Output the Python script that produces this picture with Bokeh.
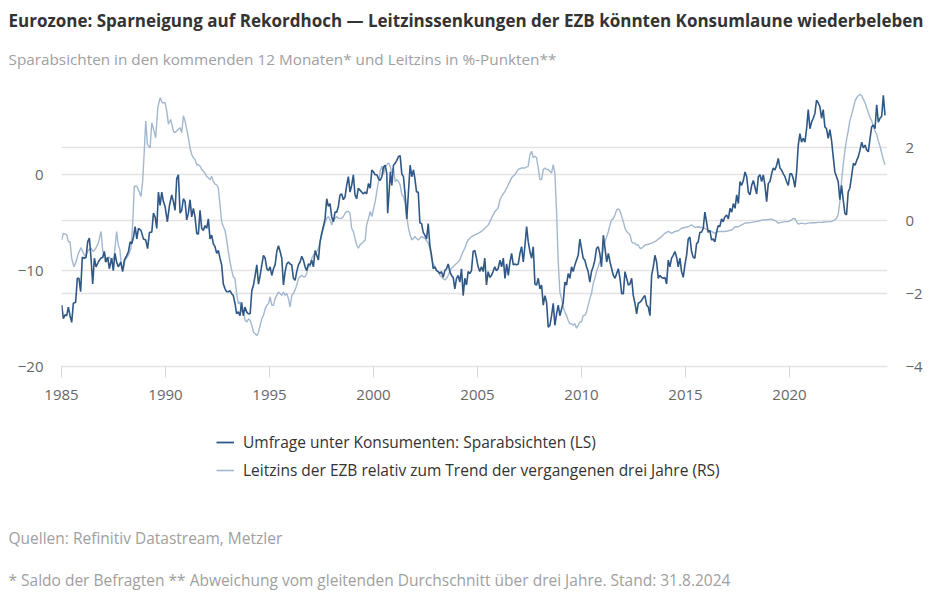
from bokeh.plotting import figure
from bokeh.layouts import column
from bokeh.models import (ColumnDataSource, Range1d, LinearAxis, FixedTicker, Grid,
                          Title, Legend, LegendItem)
from bokeh.embed import file_html
from bokeh.resources import INLINE

# ---------------- data ----------------
# Umfrage unter Konsumenten: Sparabsichten (left scale)
dark_year = [
    1985.01, 1985.09, 1985.17, 1985.25, 1985.33, 1985.41, 1985.49, 1985.57, 1985.68, 1985.76, 1985.84, 1985.92,
    1986.00, 1986.10, 1986.18, 1986.26, 1986.34, 1986.42, 1986.50, 1986.58, 1986.66, 1986.77, 1986.89, 1986.98,
    1987.06, 1987.14, 1987.22, 1987.30, 1987.41, 1987.49, 1987.57, 1987.65, 1987.73, 1987.85, 1987.94,
    1988.02, 1988.10, 1988.22, 1988.30, 1988.38, 1988.46, 1988.54, 1988.62, 1988.70, 1988.82, 1988.94,
    1989.05, 1989.14, 1989.23, 1989.34, 1989.42, 1989.50, 1989.58, 1989.66, 1989.74, 1989.82, 1989.90, 1989.98,
    1990.09, 1990.19, 1990.30, 1990.38, 1990.46, 1990.54, 1990.62, 1990.70, 1990.78, 1990.86, 1990.94,
    1991.02, 1991.10, 1991.18, 1991.26, 1991.34, 1991.42, 1991.50, 1991.58, 1991.66, 1991.74, 1991.82, 1991.90, 1991.98,
    1992.06, 1992.14, 1992.22, 1992.30, 1992.38, 1992.46, 1992.54, 1992.62, 1992.70, 1992.78, 1992.86, 1992.94,
    1993.02, 1993.10, 1993.18, 1993.26, 1993.34, 1993.42, 1993.50, 1993.58, 1993.66, 1993.74, 1993.82, 1993.90, 1993.98,
    1994.07, 1994.15, 1994.23, 1994.31, 1994.39, 1994.47, 1994.55, 1994.63, 1994.71, 1994.79, 1994.87, 1994.95,
    1995.03, 1995.11, 1995.19, 1995.27, 1995.35, 1995.43, 1995.51, 1995.59, 1995.67, 1995.75, 1995.83, 1995.91, 1995.99,
    1996.07, 1996.15, 1996.23, 1996.31, 1996.39, 1996.47, 1996.55, 1996.63, 1996.71, 1996.79, 1996.87, 1996.95,
    1997.03, 1997.11, 1997.19, 1997.27, 1997.35, 1997.43, 1997.51, 1997.59, 1997.67, 1997.75, 1997.83, 1997.91, 1997.99,
    1998.07, 1998.15, 1998.23, 1998.31, 1998.39, 1998.47, 1998.55, 1998.63, 1998.71, 1998.79, 1998.87, 1998.95,
    1999.03, 1999.11, 1999.19, 1999.27, 1999.35, 1999.43, 1999.51, 1999.59, 1999.67, 1999.76, 1999.84, 1999.92,
    2000.00, 2000.08, 2000.16, 2000.24, 2000.32, 2000.40, 2000.48, 2000.56, 2000.64, 2000.68, 2000.75, 2000.81, 2000.88, 2000.96,
    2001.04, 2001.12, 2001.20, 2001.28, 2001.36, 2001.44, 2001.52, 2001.60, 2001.68, 2001.76, 2001.84, 2001.92, 2001.99,
    2002.07, 2002.15, 2002.23, 2002.31, 2002.39, 2002.47, 2002.55, 2002.63, 2002.71, 2002.79, 2002.87, 2002.95,
    2003.03, 2003.11, 2003.19, 2003.27, 2003.35, 2003.43, 2003.51, 2003.59, 2003.67, 2003.75, 2003.83, 2003.91, 2003.99,
    2004.07, 2004.15, 2004.23, 2004.31, 2004.39, 2004.47, 2004.55, 2004.63, 2004.71, 2004.79, 2004.87, 2004.95,
    2005.03, 2005.11, 2005.19, 2005.27, 2005.35, 2005.43, 2005.51, 2005.59, 2005.67, 2005.75, 2005.83, 2005.91, 2005.99,
    2006.08, 2006.16, 2006.24, 2006.32, 2006.40, 2006.48, 2006.56, 2006.64, 2006.72, 2006.80, 2006.88, 2006.96,
    2007.04, 2007.12, 2007.20, 2007.28, 2007.36, 2007.44, 2007.52, 2007.60, 2007.68, 2007.76, 2007.84, 2007.92,
    2008.00, 2008.08, 2008.16, 2008.24, 2008.32, 2008.40, 2008.48, 2008.56, 2008.64, 2008.72, 2008.80, 2008.88, 2008.96,
    2009.04, 2009.12, 2009.20, 2009.28, 2009.36, 2009.44, 2009.52, 2009.60, 2009.68, 2009.76, 2009.84, 2009.92,
    2010.00, 2010.08, 2010.16, 2010.24, 2010.32, 2010.40, 2010.48, 2010.56, 2010.64, 2010.72, 2010.80, 2010.88, 2010.96,
    2011.05, 2011.13, 2011.21, 2011.29, 2011.37, 2011.45, 2011.53, 2011.61, 2011.69, 2011.77, 2011.85, 2011.93,
    2012.01, 2012.09, 2012.17, 2012.25, 2012.33, 2012.41, 2012.49, 2012.57, 2012.65, 2012.73, 2012.81, 2012.89, 2012.97,
    2013.05, 2013.13, 2013.21, 2013.29, 2013.37, 2013.45, 2013.53, 2013.61, 2013.69, 2013.77, 2013.85, 2013.93,
    2014.01, 2014.09, 2014.17, 2014.25, 2014.33, 2014.41, 2014.49, 2014.57, 2014.65, 2014.73, 2014.81, 2014.89, 2014.97,
    2015.05, 2015.13, 2015.21, 2015.29, 2015.37, 2015.45, 2015.53, 2015.61, 2015.69, 2015.77, 2015.85, 2015.93,
    2016.01, 2016.09, 2016.17, 2016.25, 2016.33, 2016.41, 2016.49, 2016.57, 2016.65, 2016.73, 2016.81, 2016.89, 2016.98,
    2017.06, 2017.14, 2017.22, 2017.30, 2017.38, 2017.46, 2017.54, 2017.62, 2017.70, 2017.78, 2017.86, 2017.94,
    2018.02, 2018.10, 2018.18, 2018.26, 2018.34, 2018.42, 2018.50, 2018.58, 2018.66, 2018.74, 2018.82, 2018.90, 2018.98,
    2019.06, 2019.14, 2019.22, 2019.30, 2019.38, 2019.46, 2019.54, 2019.62, 2019.70, 2019.78, 2019.86, 2019.94,
    2020.02, 2020.10, 2020.18, 2020.26, 2020.34, 2020.42, 2020.50, 2020.58, 2020.66, 2020.74, 2020.82, 2020.90, 2020.98,
    2021.06, 2021.14, 2021.22, 2021.30, 2021.38, 2021.46, 2021.54, 2021.62, 2021.70, 2021.78, 2021.86, 2021.94,
    2022.02, 2022.10, 2022.18, 2022.26, 2022.34, 2022.42, 2022.50, 2022.58, 2022.66, 2022.74, 2022.82, 2022.90, 2022.98,
    2023.07, 2023.15, 2023.23, 2023.31, 2023.39, 2023.47, 2023.55, 2023.63, 2023.71, 2023.79, 2023.87, 2023.95,
    2024.03, 2024.11, 2024.19, 2024.27, 2024.35, 2024.43, 2024.51, 2024.59,
]
dark_val = [
    -13.6, -15.0, -14.6, -14.7, -13.8, -14.7, -15.4, -13.4, -13.3, -10.8, -10.8, -12.2,
    -8.6, -8.7, -8.6, -7.0, -6.6, -8.7, -11.4, -8.7, -9.6, -9.1, -8.7, -8.6,
    -8.0, -9.1, -8.6, -9.8, -8.7, -10.0, -8.2, -9.1, -9.6, -9.1, -10.1,
    -8.9, -8.6, -8.0, -7.0, -7.2, -6.5, -5.4, -6.7, -5.6, -5.8, -6.7,
    -6.8, -7.7, -6.0, -6.0, -4.0, -4.4, -5.6, -1.8, -3.2, -1.8, -2.8, -3.3,
    -4.9, -3.2, -2.1, -2.8, -3.7, -0.4, 0.0, -4.0, -3.7, -2.5, -2.8,
    -4.7, -4.0, -2.6, -4.4, -3.5, -4.4, -6.1, -6.2, -3.7, -5.6, -5.8, -5.3, -5.6,
    -4.6, -6.7, -6.3, -7.2, -7.5, -8.2, -7.9, -8.7, -9.4, -11.4, -11.9, -12.2,
    -12.2, -12.1, -12.4, -12.6, -13.4, -14.5, -14.3, -14.7, -13.3, -14.7, -13.8, -14.3, -14.5,
    -14.5, -12.1, -11.5, -10.5, -9.4, -11.4, -10.5, -9.4, -8.4, -8.7, -9.8, -10.0,
    -9.6, -10.5, -9.8, -9.4, -8.0, -7.4, -8.0, -8.7, -11.5, -10.1, -9.3, -9.1, -9.3,
    -9.4, -10.8, -11.0, -10.1, -9.4, -9.1, -8.5, -8.9, -9.6, -10.0, -9.3, -9.4,
    -8.9, -9.6, -7.9, -8.4, -8.9, -7.0, -6.1, -5.4, -4.6, -2.5, -3.3, -3.0, -4.4,
    -4.9, -3.9, -3.9, -3.3, -2.1, -2.0, -2.6, -2.3, -1.1, -0.2, -1.8, -1.1,
    0.0, -2.1, -2.5, -1.4, -1.6, -1.8, -2.0, -1.8, -2.0, -0.9, -1.4, 0.5,
    0.3, 0.0, 0.0, -0.4, -0.6, -0.2, 0.8, 1.0, 0.1, -4.0, -1.8, 0.3, -1.1, 1.0,
    1.2, 1.5, 1.9, 2.0, 0.1, -0.2, -2.1, -4.6, -1.8, 1.0, -0.2, 0.5, -0.4,
    -1.8, -1.8, -5.0, -5.1, -6.0, -6.3, -6.7, -5.1, -7.4, -8.4, -9.8, -9.6,
    -10.0, -10.1, -10.3, -10.1, -10.7, -10.0, -9.8, -9.3, -10.1, -10.5, -10.7, -11.9, -10.8,
    -10.5, -11.2, -9.8, -12.6, -10.8, -11.5, -10.1, -10.3, -10.0, -8.0, -7.9, -8.7,
    -9.6, -10.1, -9.6, -10.1, -8.7, -11.5, -10.1, -10.7, -10.5, -10.1, -9.6, -10.0, -9.8,
    -8.9, -9.6, -8.7, -10.8, -9.3, -10.5, -9.1, -8.2, -9.4, -9.3, -9.4, -9.3,
    -8.2, -7.5, -9.1, -7.4, -5.4, -7.0, -8.0, -8.7, -7.5, -11.4, -11.5, -10.8,
    -11.9, -11.5, -13.6, -12.6, -13.3, -15.9, -15.7, -14.7, -13.4, -15.7, -14.5, -13.6, -14.7,
    -14.0, -13.3, -11.2, -11.5, -10.3, -10.8, -9.6, -10.1, -9.4, -8.9, -8.4, -6.7,
    -7.7, -8.7, -8.9, -9.6, -10.1, -11.2, -10.1, -9.6, -8.9, -7.7, -7.5, -8.2, -9.6,
    -6.3, -7.7, -9.1, -8.2, -9.1, -9.8, -10.5, -10.8, -10.3, -9.8, -10.8, -12.4,
    -12.4, -10.1, -10.8, -11.5, -11.4, -10.8, -12.6, -13.4, -14.5, -13.4, -13.3, -13.1, -12.8,
    -12.6, -13.6, -13.8, -14.7, -10.5, -9.6, -8.4, -9.1, -10.8, -10.5, -10.7, -10.8,
    -10.7, -11.4, -8.9, -9.6, -8.7, -8.4, -8.0, -8.6, -9.6, -8.7, -10.1, -10.7, -9.4,
    -8.4, -6.7, -6.5, -8.0, -8.6, -8.7, -7.2, -7.0, -6.0, -6.0, -5.6, -3.9,
    -4.9, -6.0, -5.8, -6.8, -6.7, -7.0, -6.0, -5.3, -5.4, -4.6, -4.9, -4.4, -4.2,
    -4.6, -3.5, -3.9, -3.0, -3.5, -2.1, -3.0, -0.7, -1.1, -0.6, 0.3, -0.2,
    -1.8, -2.1, -1.1, -0.6, -1.3, -2.0, -0.2, 0.0, -0.7, 0.0, -1.1, -2.8, -0.9,
    -0.7, 0.1, 0.7, 0.5, 1.0, 1.7, 0.7, 0.5, 0.1, -0.2, -0.7, -1.1,
    0.1, 0.1, -0.4, -1.3, 0.3, 3.1, 4.3, 3.4, 3.8, 3.4, 4.8, 6.8, 4.8,
    5.5, 5.9, 6.4, 7.8, 7.5, 7.1, 5.9, 6.8, 5.0, 4.8, 3.8, 4.7,
    3.6, 1.9, 0.3, -0.2, -0.7, -2.6, -1.1, -2.6, -4.0, -4.2, -1.8, -1.4, -0.2,
    1.2, 1.0, 1.5, 1.9, 2.6, 3.4, 2.8, 3.1, 2.6, 2.4, 3.8, 5.0,
    5.2, 4.8, 7.3, 5.5, 5.9, 6.1, 8.3, 6.2,
]

# Leitzins der EZB relativ zum Trend der vergangenen drei Jahre (right scale)
light_year = [
    1985.01, 1985.09, 1985.25, 1985.33, 1985.41, 1985.49, 1985.60, 1985.70, 1985.81, 1985.94,
    1986.05, 1986.16, 1986.29, 1986.42, 1986.53, 1986.65, 1986.77, 1986.90, 1986.98,
    1987.09, 1987.21, 1987.30, 1987.41, 1987.53, 1987.65, 1987.73, 1987.81, 1987.89, 1987.98,
    1988.06, 1988.22, 1988.34, 1988.42, 1988.50, 1988.62, 1988.73, 1988.82, 1988.90, 1988.98,
    1989.05, 1989.13, 1989.26, 1989.34, 1989.45, 1989.53, 1989.63, 1989.74, 1989.85, 1989.98,
    1990.06, 1990.14, 1990.25, 1990.38, 1990.46, 1990.62, 1990.70, 1990.78, 1990.86, 1990.94,
    1991.02, 1991.10, 1991.18, 1991.26, 1991.34, 1991.42, 1991.50, 1991.58, 1991.66, 1991.74, 1991.82, 1991.90, 1991.98,
    1992.06, 1992.14, 1992.22, 1992.30, 1992.38, 1992.46, 1992.54, 1992.62, 1992.70, 1992.78, 1992.86, 1992.94,
    1993.02, 1993.10, 1993.18, 1993.26, 1993.34, 1993.42, 1993.50, 1993.58, 1993.66, 1993.74, 1993.83, 1993.91, 1993.99,
    1994.07, 1994.15, 1994.23, 1994.31, 1994.39, 1994.47, 1994.55, 1994.63, 1994.71, 1994.79, 1994.87, 1994.95,
    1995.03, 1995.11, 1995.19, 1995.27, 1995.35, 1995.43, 1995.51, 1995.59, 1995.67, 1995.75, 1995.83, 1995.91, 1995.99,
    1996.07, 1996.15, 1996.23, 1996.31, 1996.39, 1996.47, 1996.55, 1996.63, 1996.71, 1996.79, 1996.87, 1996.95,
    1997.03, 1997.11, 1997.19, 1997.27, 1997.35, 1997.43, 1997.51, 1997.59, 1997.67, 1997.75, 1997.83, 1997.91, 1997.99,
    1998.07, 1998.15, 1998.23, 1998.31, 1998.39, 1998.47, 1998.55, 1998.63, 1998.71, 1998.79, 1998.87, 1998.95,
    1999.03, 1999.11, 1999.19, 1999.27, 1999.35, 1999.43, 1999.51, 1999.60, 1999.67, 1999.76, 1999.84, 1999.92, 1999.99,
    2000.08, 2000.16, 2000.24, 2000.32, 2000.40, 2000.48, 2000.56, 2000.64, 2000.72, 2000.80, 2000.88, 2000.96,
    2001.04, 2001.12, 2001.20, 2001.28, 2001.36, 2001.44, 2001.52, 2001.60, 2001.68, 2001.76, 2001.84, 2001.92, 2001.99,
    2002.07, 2002.15, 2002.31, 2002.47, 2002.63, 2002.71, 2002.79, 2002.87, 2002.95,
    2003.03, 2003.11, 2003.19, 2003.27, 2003.35, 2003.43, 2003.51, 2003.59, 2003.67, 2003.75, 2003.83, 2003.91, 2003.99,
    2004.07, 2004.15, 2004.23, 2004.31, 2004.39, 2004.47, 2004.55, 2004.63, 2004.71, 2004.87,
    2005.03, 2005.19, 2005.35, 2005.52, 2005.67, 2005.84, 2005.99,
    2006.08, 2006.16, 2006.32, 2006.48, 2006.64, 2006.80, 2006.96,
    2007.12, 2007.28, 2007.44, 2007.52, 2007.60, 2007.68, 2007.76, 2007.84, 2007.92,
    2008.00, 2008.08, 2008.16, 2008.24, 2008.32, 2008.40, 2008.48, 2008.56, 2008.64, 2008.72, 2008.80, 2008.88, 2008.96,
    2009.04, 2009.12, 2009.20, 2009.28, 2009.36, 2009.44, 2009.52, 2009.60, 2009.68, 2009.76, 2009.84, 2009.92,
    2010.00, 2010.08, 2010.16, 2010.24, 2010.32, 2010.40, 2010.48, 2010.56, 2010.64, 2010.72, 2010.80, 2010.88, 2010.96,
    2011.05, 2011.13, 2011.21, 2011.29, 2011.37, 2011.45, 2011.53, 2011.61, 2011.69, 2011.77, 2011.85, 2011.93,
    2012.01, 2012.09, 2012.17, 2012.25, 2012.33, 2012.41, 2012.49, 2012.57, 2012.65, 2012.73, 2012.81, 2012.89, 2012.97,
    2013.05, 2013.21, 2013.37, 2013.53, 2013.69, 2013.85,
    2014.01, 2014.17, 2014.33, 2014.49, 2014.65, 2014.81, 2014.97,
    2015.13, 2015.29, 2015.45, 2015.61, 2015.77, 2015.93,
    2016.09, 2016.25, 2016.41, 2016.57, 2016.73, 2016.89,
    2017.06, 2017.22, 2017.38, 2017.54, 2017.70, 2017.86,
    2018.02, 2018.18, 2018.34, 2018.50, 2018.66, 2018.82, 2018.98,
    2019.14, 2019.22, 2019.30, 2019.46, 2019.62, 2019.78, 2019.94,
    2020.10, 2020.18, 2020.26, 2020.34, 2020.42, 2020.58, 2020.74, 2020.90,
    2021.06, 2021.22, 2021.38, 2021.54, 2021.70, 2021.86,
    2022.02, 2022.18, 2022.26, 2022.34, 2022.42, 2022.50, 2022.58, 2022.66, 2022.74, 2022.82, 2022.90, 2022.99,
    2023.07, 2023.15, 2023.23, 2023.31, 2023.39, 2023.47, 2023.55, 2023.63, 2023.71, 2023.79, 2023.87, 2023.95,
    2024.03, 2024.11, 2024.19, 2024.27, 2024.35, 2024.43, 2024.51, 2024.59,
]
light_val = [
    -0.53, -0.35, -0.39, -0.58, -0.58, -1.04, -1.27, -1.13, -0.90, -0.74,
    -0.90, -0.99, -0.81, -0.76, -0.85, -0.76, -0.62, -0.30, -0.81,
    -1.13, -1.08, -0.99, -1.13, -0.99, -0.30, -0.67, -0.81, -1.31, -1.31,
    -1.08, -0.95, -0.76, -0.12, 0.94, 0.94, 0.80, 0.66, 1.07, 1.90,
    2.73, 2.08, 1.99, 2.68, 2.45, 2.27, 3.09, 3.37, 3.23, 3.23,
    3.00, 2.64, 2.77, 2.45, 2.41, 2.50, 2.54, 2.41, 2.87, 2.73,
    2.50, 2.27, 1.99, 1.81, 1.72, 1.67, 1.53, 1.53, 1.49, 1.40, 1.35, 1.30, 1.21,
    1.17, 1.12, 1.21, 1.07, 1.00, 0.98, 0.89, 0.43, -0.03, -0.17, -0.26, -0.53,
    -0.85, -1.13, -1.36, -1.54, -1.59, -2.00, -2.28, -2.23, -2.51, -2.46, -2.74, -2.78, -2.69,
    -2.74, -2.87, -3.06, -3.10, -3.15, -3.06, -2.87, -2.69, -2.60, -2.42, -2.32, -2.28,
    -2.09, -2.32, -2.32, -2.14, -2.05, -1.96, -2.00, -2.05, -1.96, -2.05, -2.00, -2.14, -2.37,
    -2.05, -2.00, -1.90, -1.77, -1.59, -1.54, -1.50, -1.54, -1.54, -1.45, -1.22, -1.27,
    -1.04, -0.95, -0.90, -0.85, -0.76, -0.58, -0.39, -0.21, -0.07, 0.06, 0.11, 0.02, -0.12,
    0.02, 0.06, 0.11, 0.06, 0.06, 0.06, 0.11, 0.20, 0.25, 0.25, 0.20, -0.21,
    -0.30, -0.49, -0.67, -0.76, -0.67, -0.62, -0.58, -0.53, -0.12, 0.06, 0.25, 0.11, 0.29,
    0.52, 0.80, 1.07, 1.35, 1.49, 1.26, 1.49, 1.53, 1.58, 1.49, 1.30, 1.44,
    1.07, 1.12, 1.07, 0.98, 0.71, 0.66, 0.48, 0.11, -0.21, -0.39, -0.53, -0.49, -0.44,
    -0.49, -0.53, -0.44, -0.49, -0.62, -0.76, -1.04, -1.18, -1.27,
    -1.36, -1.40, -1.50, -1.54, -1.59, -1.63, -1.59, -1.50, -1.40, -1.31, -1.27, -1.22, -1.18,
    -1.13, -1.08, -0.95, -0.85, -0.76, -0.62, -0.53, -0.49, -0.44, -0.39,
    -0.35, -0.30, -0.21, -0.12, 0.06, 0.25, 0.34,
    0.57, 0.66, 0.80, 0.98, 1.17, 1.26, 1.40,
    1.44, 1.44, 1.49, 1.81, 1.90, 1.72, 1.76, 1.72, 1.44,
    1.12, 1.12, 1.40, 1.44, 1.40, 1.40, 1.35, 1.30, 1.53, 1.30, 0.25, -1.13, -1.96,
    -2.14, -2.37, -2.51, -2.60, -2.74, -2.83, -2.83, -2.87, -2.83, -2.95, -2.87, -2.78,
    -2.78, -2.60, -2.60, -2.51, -2.32, -2.14, -2.00, -1.73, -1.59, -1.40, -1.27, -1.13, -1.04,
    -0.76, -0.58, -0.44, -0.30, -0.12, 0.02, 0.06, 0.16, 0.29, 0.32, 0.27, 0.11,
    -0.03, -0.21, -0.30, -0.35, -0.39, -0.58, -0.62, -0.62, -0.67, -0.67, -0.76, -0.76, -0.72,
    -0.67, -0.65, -0.62, -0.58, -0.51, -0.44,
    -0.35, -0.30, -0.35, -0.30, -0.28, -0.21, -0.19,
    -0.17, -0.12, -0.19, -0.17, -0.19, -0.21,
    -0.28, -0.30, -0.35, -0.30, -0.30, -0.30,
    -0.28, -0.26, -0.17, -0.17, -0.12, -0.07,
    -0.06, -0.05, -0.03, -0.02, 0.01, 0.02, 0.03,
    0.04, 0.02, 0.00, -0.07, -0.05, -0.03, -0.03,
    0.02, 0.06, 0.05, -0.03, -0.10, -0.07, -0.09, -0.07,
    -0.06, -0.06, -0.05, -0.05, -0.04, -0.03,
    -0.03, 0.02, 0.06, 0.16, 0.52, 1.07, 1.53, 1.90, 2.22, 2.45, 2.73, 2.91,
    3.09, 3.28, 3.37, 3.42, 3.46, 3.42, 3.32, 3.23, 3.09, 2.96, 2.82, 2.73,
    2.59, 2.45, 2.36, 2.18, 2.04, 1.85, 1.67, 1.53,
]

x_ticks = [1985, 1990, 1995, 2000, 2005, 2010, 2015, 2020]
ls_ticks = [-20, -10, 0]
rs_ticks = [-4, -2, 0, 2]

title_text = "Eurozone: Sparneigung auf Rekordhoch \u2014 Leitzinssenkungen der EZB könnten Konsumlaune wiederbeleben"
subtitle_text = "Sparabsichten in den kommenden 12 Monaten* und Leitzins in %-Punkten**"
legend_dark = "Umfrage unter Konsumenten: Sparabsichten (LS)"
legend_light = "Leitzins der EZB relativ zum Trend der vergangenen drei Jahre (RS)"
source_text = "Quellen: Refinitiv Datastream, Metzler"
note_text = "* Saldo der Befragten ** Abweichung vom gleitenden Durchschnitt über drei Jahre. Stand: 31.8.2024"

assert len(dark_year) == len(dark_val), (len(dark_year), len(dark_val))
assert len(light_year) == len(light_val), (len(light_year), len(light_val))

# ---------------- styling ----------------
FONT = "Open Sans"
DARK = "#2f5886"
LIGHT = "#a3b8ce"
GRID = "#e3e3e3"
TICK_TXT = "#666666"
NOTE = "#a0a0a0"

MAIN_H = 420
FOOT_H = 598 - MAIN_H

# ---------------- main chart ----------------
p = figure(width=940, height=MAIN_H, output_backend="svg", toolbar_location=None,
           x_range=Range1d(1985, 2024.71), y_range=Range1d(-20, 10.15),
           min_border_left=61, min_border_right=53, min_border_top=77,
           min_border_bottom=MAIN_H - 366,
           background_fill_color="white", border_fill_color="white")
p.outline_line_color = None
p.extra_y_ranges = {"rs": Range1d(-4, 3.92)}

xa = p.xaxis[0]
xa.ticker = FixedTicker(ticks=x_ticks)
xa.axis_line_color = GRID
xa.axis_line_width = 1.5
xa.major_tick_line_color = "#d6d6d6"
xa.major_tick_in = 0
xa.major_tick_out = 11
xa.minor_tick_line_color = None
xa.major_label_text_font = FONT
xa.major_label_text_font_size = "15px"
xa.major_label_text_color = TICK_TXT
xa.major_label_standoff = 12

ya = p.yaxis[0]
ya.ticker = FixedTicker(ticks=ls_ticks)
ya.axis_line_color = None
ya.major_tick_line_color = None
ya.minor_tick_line_color = None
ya.major_tick_out = 0
ya.major_tick_in = 0
ya.major_label_standoff = 18
ya.major_label_text_font = FONT
ya.major_label_text_font_size = "15px"
ya.major_label_text_color = TICK_TXT

ra = LinearAxis(y_range_name="rs", ticker=FixedTicker(ticks=rs_ticks))
ra.axis_line_color = None
ra.major_tick_line_color = None
ra.minor_tick_line_color = None
ra.major_tick_out = 0
ra.major_tick_in = 0
ra.major_label_standoff = 18
ra.major_label_text_font = FONT
ra.major_label_text_font_size = "15px"
ra.major_label_text_color = TICK_TXT
p.add_layout(ra, "right")

p.xgrid.visible = False
p.ygrid.ticker = FixedTicker(ticks=[-10, 0])
p.ygrid.grid_line_color = GRID
p.ygrid.grid_line_width = 1.5
g2 = Grid(dimension=1, ticker=FixedTicker(ticks=[-2, 0, 2]), y_range_name="rs",
          grid_line_color=GRID, grid_line_width=1.5)
p.add_layout(g2)

src_dark = ColumnDataSource(data=dict(x=dark_year, y=dark_val))
src_light = ColumnDataSource(data=dict(x=light_year, y=light_val))
r_light = p.line("x", "y", source=src_light, y_range_name="rs", line_color=LIGHT, line_width=1.4)
r_dark = p.line("x", "y", source=src_dark, line_color=DARK, line_width=1.6)

# subtitle (closest to the frame), then title on top
p.add_layout(Title(text=subtitle_text, align="left", offset=-53, standoff=18,
                   vertical_align="bottom",
                   text_font=FONT, text_font_size="15.3px", text_font_style="normal",
                   text_color=NOTE), "above")
p.add_layout(Title(text=title_text, align="left", offset=-53, standoff=7,
                   vertical_align="top",
                   text_font=FONT, text_font_size="17px", text_font_style="bold",
                   text_color="#333333"), "above")

# ---------------- footer: legend + notes ----------------
FOOT_FRAME = 92
f = figure(width=940, height=FOOT_H, output_backend="svg", toolbar_location=None,
           x_axis_type=None, y_axis_type=None,
           x_range=Range1d(0, 1), y_range=Range1d(0, 1),
           min_border_left=61, min_border_right=53, min_border_top=0,
           min_border_bottom=FOOT_H - FOOT_FRAME,
           background_fill_color="white", border_fill_color="white")
f.outline_line_color = None
f.grid.visible = False

# legend swatches: same line styles as the chart's two series (placeholder rows draw nothing)
k_dark = f.line("x", "y", source=ColumnDataSource(data=dict(x=[float("nan")], y=[float("nan")])),
                line_color=DARK, line_width=1.8)
k_light = f.line("x", "y", source=ColumnDataSource(data=dict(x=[float("nan")], y=[float("nan")])),
                 line_color=LIGHT, line_width=1.6)
legend = Legend(items=[LegendItem(label=legend_dark, renderers=[k_dark]),
                       LegendItem(label=legend_light, renderers=[k_light])],
                location=(155, FOOT_FRAME - 61), orientation="vertical", padding=0, margin=0, spacing=6,
                glyph_width=18, glyph_height=20, label_height=20, label_standoff=9,
                label_text_font=FONT, label_text_font_size="15.5px", label_text_color="#333333",
                border_line_color=None, background_fill_alpha=0)
f.add_layout(legend)

f.add_layout(Title(text=source_text, align="left", offset=-53, standoff=25,
                   vertical_align="bottom",
                   text_font=FONT, text_font_size="15.5px", text_font_style="normal",
                   text_color=NOTE), "below")
f.add_layout(Title(text=note_text, align="left", offset=-53, standoff=11,
                   vertical_align="bottom",
                   text_font=FONT, text_font_size="15.5px", text_font_style="normal",
                   text_color=NOTE), "below")

layout = column(p, f, spacing=0)
open("out.html", "w").write(file_html(layout, INLINE))
